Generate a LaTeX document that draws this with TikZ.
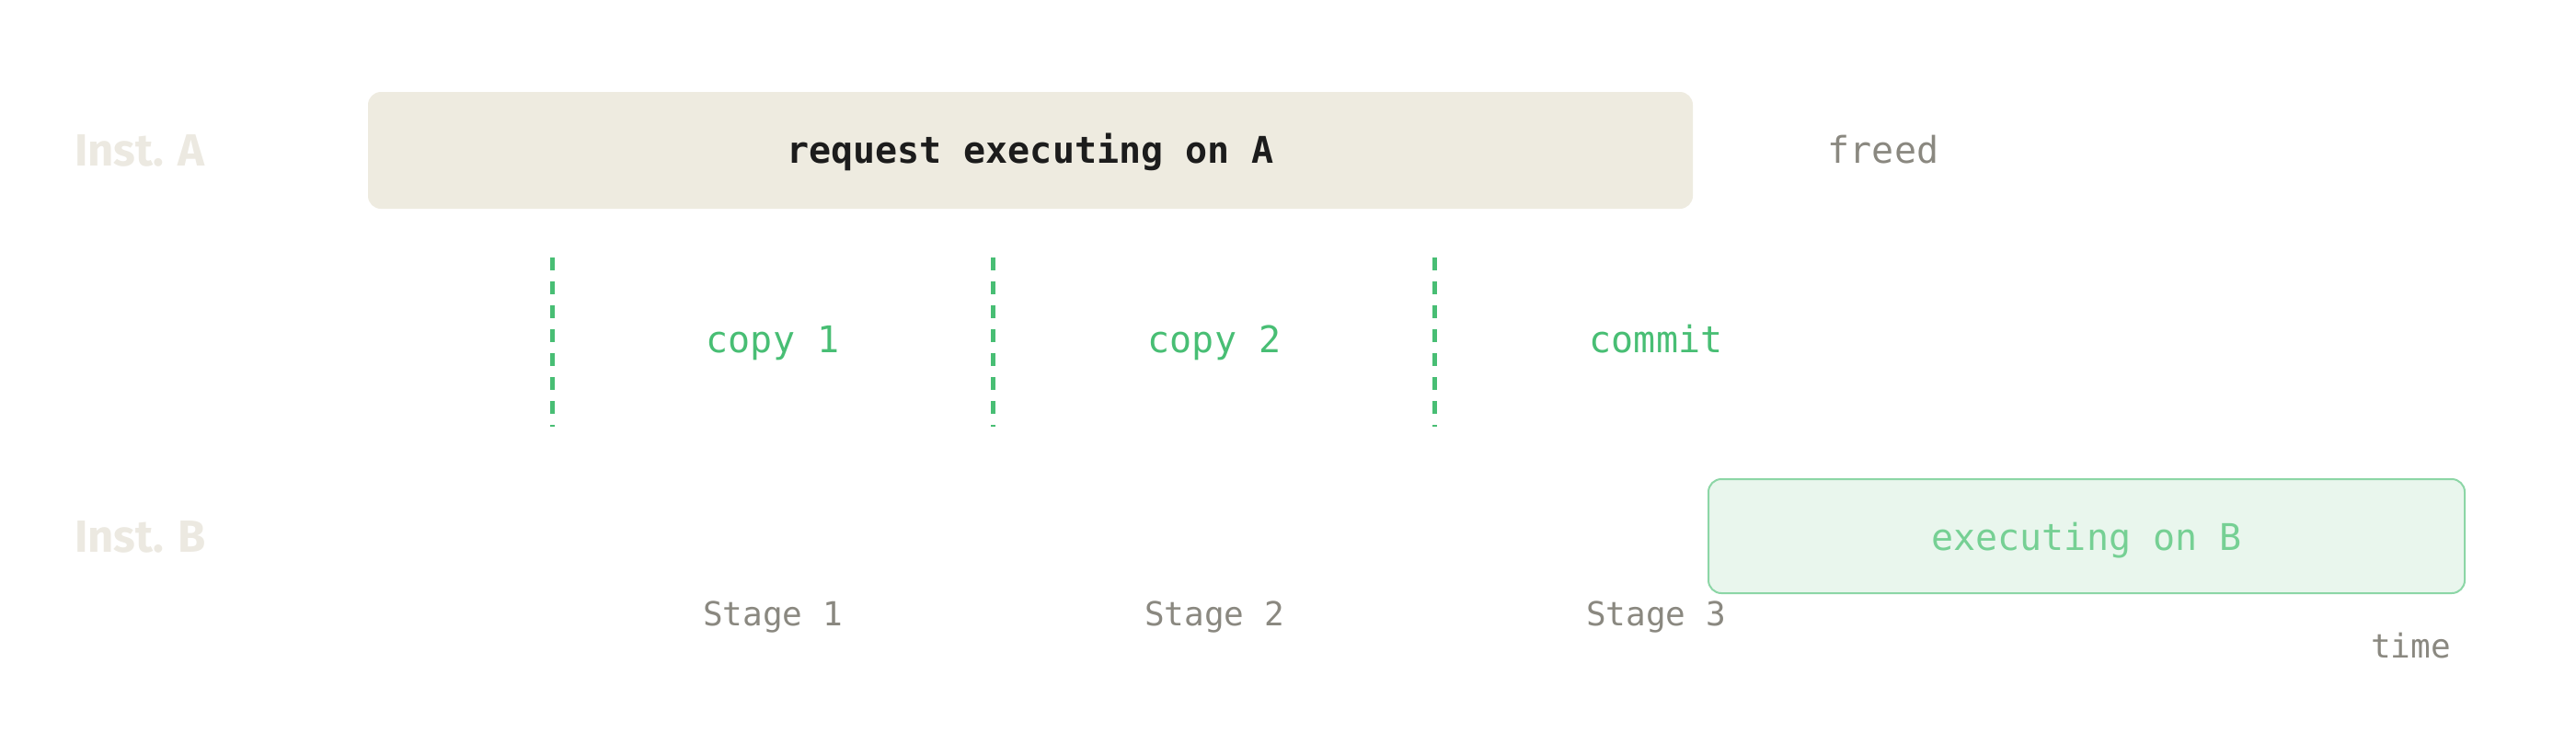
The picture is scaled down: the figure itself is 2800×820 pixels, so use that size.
\documentclass[tikz,border=0pt]{standalone}
\usepackage{fontspec}
\setmonofont{DejaVu Sans Mono}
\newfontfamily\instfont{Fira Sans}

\definecolor{boxAfill}{RGB}{238,235,224}
\definecolor{boxBfill}{RGB}{233,246,237}
\definecolor{boxBline}{RGB}{140,214,166}
\definecolor{boxBtext}{RGB}{118,208,148}
\definecolor{stepgreen}{RGB}{72,190,116}
\definecolor{inkdark}{RGB}{28,28,28}
\definecolor{inkgray}{RGB}{138,136,128}
\definecolor{instgray}{RGB}{236,233,225}

\tikzset{every picture/.style={line width=0.75pt}}
\tikzset{
  monotext/.style={inner sep=0.75pt, anchor=base, font=\ttfamily\fontsize{40}{48}\selectfont},
  smalltext/.style={inner sep=0.75pt, anchor=base, text=inkgray, font=\ttfamily\fontsize{36}{43}\selectfont},
  instlabel/.style={inner sep=0.75pt, anchor=base west, text=instgray, font=\instfont\bfseries\fontsize{49}{58}\selectfont},
  stagesep/.style={draw=stepgreen, line width=5pt, dash pattern={on 14pt off 12pt}},
}

\begin{document}
\begin{tikzpicture}[x=1pt,y=1pt,yscale=-1,xscale=1]
	\useasboundingbox (0,0) rectangle (2800,820);
	
	%Shape: Rectangle [id:boxA] 
	\draw [fill=boxAfill, draw=none, rounded corners=14pt] (400,100) rectangle (1840,227) ;
	%Shape: Rectangle [id:boxB] 
	\draw [fill=boxBfill, draw=boxBline, line width=2pt, rounded corners=14pt] (1857,521) rectangle (2679,645) ;
	%Straight Lines [id:sep1] 
	\draw [stagesep]  (600,280) -- (600,464) ;
	%Straight Lines [id:sep2] 
	\draw [stagesep]  (1079,280) -- (1079,464) ;
	%Straight Lines [id:sep3] 
	\draw [stagesep]  (1559,280) -- (1559,464) ;
	
	% Text Node
	\draw (80,180) node [instlabel] (instA) {Inst. A};
	% Text Node
	\draw (80,600) node [instlabel] (instB) {Inst. B};
	% Text Node
	\draw (1120,177) node [monotext, text=inkdark] (reqA) {\bfseries request executing on A};
	% Text Node
	\draw (2047,177) node [monotext, text=inkgray] (freed) {freed};
	% Text Node
	\draw (840,383) node [monotext, text=stepgreen] (copyone) {copy 1};
	% Text Node
	\draw (1320,383) node [monotext, text=stepgreen] (copytwo) {copy 2};
	% Text Node
	\draw (1800,383) node [monotext, text=stepgreen] (commit) {commit};
	% Text Node
	\draw (2268,598) node [monotext, text=boxBtext] (execB) {executing on B};
	% Text Node
	\draw (840,680) node [smalltext] (stageone) {Stage 1};
	% Text Node
	\draw (1320,680) node [smalltext] (stagetwo) {Stage 2};
	% Text Node
	\draw (1800,680) node [smalltext] (stagethree) {Stage 3};
	% Text Node
	\draw (2665,715) node [smalltext, anchor=base east] (time) {time};
	
\end{tikzpicture}
\end{document}
